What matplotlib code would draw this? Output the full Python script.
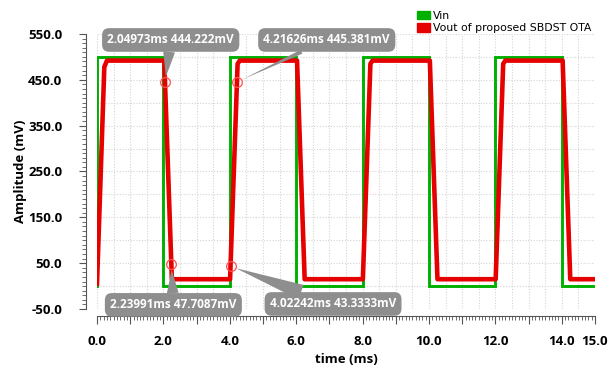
import numpy as np
import matplotlib
matplotlib.use('Agg')
import matplotlib.pyplot as plt
from matplotlib.patches import Patch
from matplotlib.ticker import MultipleLocator, FixedLocator, FuncFormatter

# Vin square wave corners
vin_t = [0, 0, 2, 2, 4, 4, 6, 6, 8, 8, 10, 10, 12, 12, 14, 14, 15]
vin_v = [0, 500, 500, 0, 0, 500, 500, 0, 0, 500, 500, 0, 0, 500, 500, 0, 0]

# Vout corners
vout_t = [0, 0.22, 0.30, 2.025, 2.255,
          4.008, 4.235, 4.30, 6.025, 6.255,
          8.008, 8.235, 8.30, 10.025, 10.255,
          12.008, 12.235, 12.30, 14.025, 14.255, 15.0]
vout_v = [5, 478, 492, 492, 15,
          15, 485, 492, 492, 15,
          15, 485, 492, 492, 15,
          15, 485, 492, 492, 15, 15]

# cursor markers
mark_t = [2.04973, 4.21626, 2.23991, 4.02242]
mark_v = [444.222, 445.381, 47.7087, 43.3333]
mark_txt = ['2.04973ms 444.222mV', '4.21626ms 445.381mV',
            '2.23991ms 47.7087mV', '4.02242ms 43.3333mV']
box_pos = [(2.22, 537), (6.92, 537), (2.30, -41), (7.11, -39)]
tail_w = [1.0, 0.35, 1.0, 1.3]

plt.rcParams['font.family'] = ['Open Sans', 'DejaVu Sans']

fig = plt.figure(figsize=(6.16, 3.69), dpi=100)
ax = fig.add_axes([97/616, 1-309/369, 498/616, 275/369])

green = '#00b000'
red = '#e60000'

# dotted grid
for gx in np.arange(0, 15.01, 0.5):
    ax.axvline(gx, color='#d4d4d4', lw=0.8, ls=(0, (1, 1.5)), zorder=0)
for gy in np.arange(-50, 551, 50):
    ax.axhline(gy, color='#d4d4d4', lw=0.8, ls=(0, (1, 1.5)), zorder=0)

ax.plot(vin_t, vin_v, color=green, lw=2.1, zorder=2, solid_joinstyle='miter')
ax.plot(vout_t, vout_v, color=red, lw=3.3, zorder=3, solid_joinstyle='round')

ax.plot(mark_t, mark_v, 'o', ms=7, mfc='none', mec='#ff5050', mew=0.9, zorder=4)

for (tx, ty), t, v, s, tw in zip(box_pos, mark_t, mark_v, mark_txt, tail_w):
    ax.annotate(s, xy=(t, v), xytext=(tx, ty), textcoords='data',
                ha='center', va='center', color='white', fontsize=8.5,
                fontweight='bold', annotation_clip=False, zorder=5,
                bbox=dict(boxstyle='round,pad=0.45,rounding_size=0.6',
                          fc='#8e8e8e', ec='none'),
                arrowprops=dict(arrowstyle='wedge,tail_width=%.2f,shrink_factor=0.5' % tw,
                                fc='#8e8e8e', ec='none', shrinkA=0, shrinkB=4))

ax.set_xlim(0, 15)
ax.set_ylim(-50, 550)

for s in ['top', 'right']:
    ax.spines[s].set_visible(False)
ax.spines['left'].set_position(('outward', 8))
ax.spines['bottom'].set_position(('outward', 5))
ax.spines['left'].set_color('#555555')
ax.spines['bottom'].set_color('#555555')

ax.yaxis.set_major_locator(MultipleLocator(100, offset=50))
ax.yaxis.set_minor_locator(MultipleLocator(10))
ax.yaxis.set_major_formatter(FuncFormatter(lambda v, p: '%.1f' % v))
ax.xaxis.set_major_locator(FixedLocator(list(range(0, 16))))
ax.xaxis.set_minor_locator(MultipleLocator(0.1))
ax.xaxis.set_major_formatter(FuncFormatter(
    lambda v, p: '%.1f' % v if (int(round(v)) % 2 == 0 or int(round(v)) == 15) else ''))

ax.tick_params(which='major', length=5, width=0.8, color='#555555',
               labelsize=9.5)
ax.tick_params(which='minor', length=3, width=0.6, color='#555555')
ax.tick_params(axis='y', which='major', pad=12)
ax.tick_params(axis='x', which='major', length=6, pad=8)
for lab in ax.get_xticklabels() + ax.get_yticklabels():
    lab.set_fontweight('bold')

ax.set_xlabel('time (ms)', fontsize=9.5, fontweight='bold', labelpad=3)
ax.set_ylabel('Amplitude (mV)', fontsize=9.5, fontweight='bold', labelpad=1)

handles = [Patch(color=green, label='Vin'),
           Patch(color=red, label='Vout of proposed SBDST OTA')]
fig.legend(handles=handles, loc='upper left', bbox_to_anchor=(409/616, 1-3/369),
           frameon=False, handlelength=1.2, handleheight=0.85,
           handletextpad=0.35, labelspacing=0.25, borderpad=0.2,
           prop={'family': 'DejaVu Sans', 'size': 7.8})

fig.savefig('out.png', dpi=100)
